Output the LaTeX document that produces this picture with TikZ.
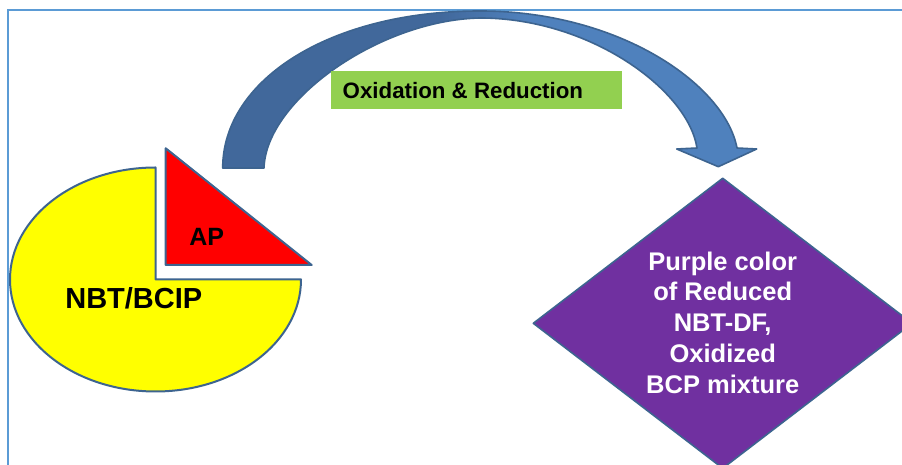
\documentclass[tikz,border=0pt]{standalone}
\usepackage{fontspec}
\setmainfont{Liberation Sans}
\definecolor{borderblue}{HTML}{5B9BD5}
\definecolor{arrowlight}{HTML}{4F81BD}
\definecolor{arrowdark}{HTML}{41689B}
\definecolor{shapeline}{HTML}{3D6490}
\definecolor{labelgreen}{HTML}{92D050}
\definecolor{diapurple}{HTML}{7030A0}
\definecolor{pieyellow}{HTML}{FFFF00}
\definecolor{piered}{HTML}{FF0000}
\newcommand\curvedarrowpath{(222.7,297) .. controls (222.7,385) and (330,454) .. (480,454)
  .. controls (620,454) and (725,380) .. (737,317)
  -- (756.7,316) -- (718.3,298.3) -- (676.7,316) -- (697,317)
  .. controls (688,375) and (590,447) .. (480,447)
  .. controls (380,445) and (266,365) .. (264,297) -- cycle}
\tikzset{
  outline/.style={draw=shapeline, line width=2pt, line join=round},
  boldtext/.style={font=\bfseries, inner sep=0pt},
}
\begin{document}
\begin{tikzpicture}[x=1pt,y=1pt]
\clip (0,0) rectangle (902,465);
\fill[white] (0,0) rectangle (902,465);
% frame
\draw[borderblue, line width=1.5pt] (8,-2) -- (8,455) -- (904,455);
% curved arrow
\fill[arrowlight] \curvedarrowpath;
\begin{scope}
  \clip \curvedarrowpath;
  \fill[arrowdark] (0,0) rectangle (440,465);
  \shade[left color=arrowdark, right color=arrowlight] (439.5,0) rectangle (525,465);
\end{scope}
\draw[outline, line width=1.6pt] \curvedarrowpath;
% label
\fill[labelgreen] (331,355.7) rectangle (622,394);
\node[boldtext, anchor=base west, font=\bfseries\fontsize{22.3}{26}\selectfont] (lbl) at (342.5,366.3) {Oxidation \& Reduction};
% pie
\coordinate (piec) at (155.5,185.5);
\filldraw[fill=pieyellow, outline] (piec) -- ++(0,112) arc[start angle=90, end angle=360, x radius=145.5, y radius=112] -- cycle;
\filldraw[fill=piered, outline] (165.7,316.7) -- (165.7,200) -- (311.7,200) -- cycle;
\node[boldtext, anchor=base, font=\bfseries\fontsize{25}{30}\selectfont] (ap) at (206.7,219) {AP};
\node[boldtext, anchor=base, font=\bfseries\fontsize{29}{34}\selectfont] (nbt) at (133.8,156.7) {NBT/BCIP};
% diamond
\coordinate (dc) at (722.7,141.7);
\filldraw[fill=diapurple, outline, line width=1.6pt] (722.7,286.7) -- (912.1,141.7) -- (722.7,-3.3) -- (533.3,141.7) -- cycle;
\node[boldtext, text=white, align=center, font=\bfseries\fontsize{25.5}{30.8}\selectfont] (dtext) at (722.7,142.4)
  {Purple color\\of Reduced\\NBT-DF,\\Oxidized\\BCP mixture};
\end{tikzpicture}
\end{document}
